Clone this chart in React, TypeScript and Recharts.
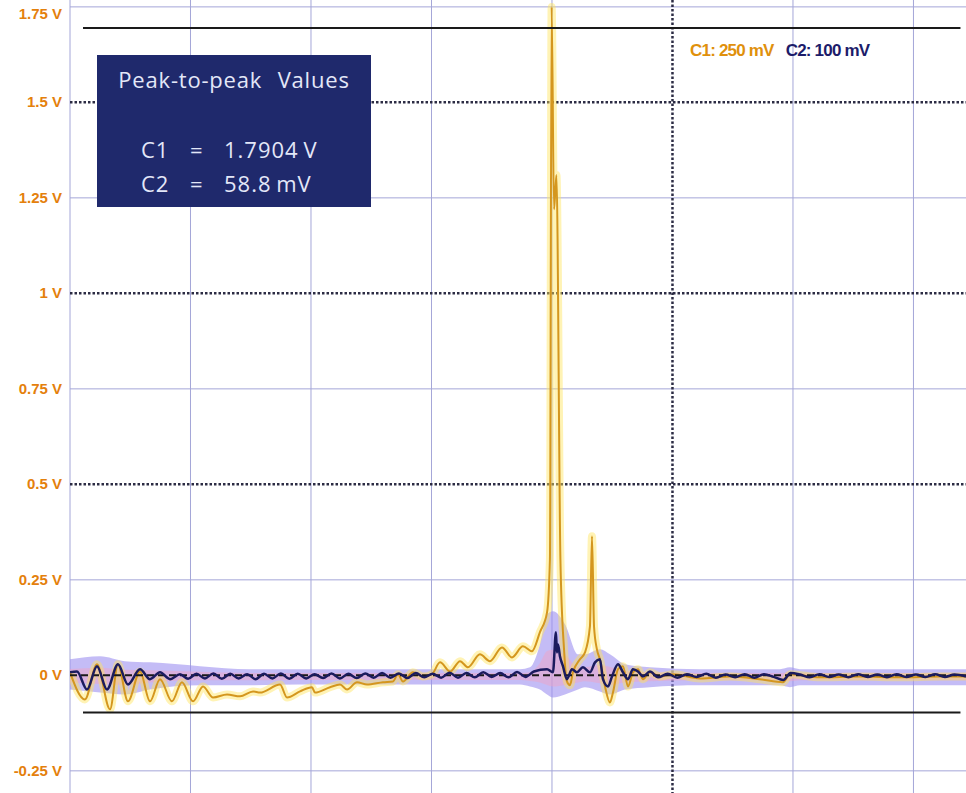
import React from 'react';
import { ComposedChart, Line, Area, XAxis, YAxis, CartesianGrid, ReferenceLine } from 'recharts';

// time in screen divisions, value in volts
const c1Trace: [number, number][] = [
  [0, 0.008], [0.124, -0.063], [0.224, 0.029], [0.332, -0.089], [0.398, 0.029], [0.481, -0.068],
  [0.581, 0.01], [0.664, -0.068], [0.747, -0.01], [0.846, -0.068], [0.929, -0.018], [1.021, -0.068],
  [1.104, -0.029], [1.187, -0.058], [1.303, -0.05], [1.411, -0.055], [1.519, -0.042], [1.577, -0.045],
  [1.743, -0.024], [1.801, -0.058], [1.909, -0.042], [2.008, -0.031], [2.033, -0.045], [2.158, -0.031],
  [2.241, -0.024], [2.299, -0.037], [2.382, -0.018], [2.465, -0.024], [2.598, -0.018], [2.68, -0.016],
  [2.722, 0.003], [2.763, -0.016], [2.846, 0.008], [2.929, -0.003], [3.004, 0.003], [3.071, 0.034],
  [3.154, 0.01], [3.237, 0.037], [3.303, 0.021], [3.402, 0.055], [3.485, 0.037], [3.585, 0.073],
  [3.668, 0.047], [3.759, 0.076], [3.834, 0.063], [3.9, 0.113], [3.959, 0.165], [3.983, 0.304],
  [3.997, 1.75], [4.017, 1.22], [4.037, 1.31], [4.07, 0.304], [4.1, 0.068], [4.124, -0.016],
  [4.149, -0.026], [4.174, 0.008], [4.232, 0.042], [4.274, 0.06], [4.315, 0.128], [4.332, 0.364],
  [4.349, 0.128], [4.373, 0.068], [4.398, 0.042], [4.44, -0.029], [4.481, -0.071], [4.506, -0.045],
  [4.548, 0.016], [4.589, 0.024], [4.631, -0.029], [4.672, 0.008], [4.714, 0.016], [4.755, -0.01],
  [4.813, 0.008], [4.896, -0.003], [5.004, 0.003], [5.228, -0.008], [5.477, -0.003], [5.726, -0.01],
  [5.917, -0.018], [5.975, 0.003], [6.224, -0.005], [6.556, -0.003], [6.888, -0.005], [7.22, -0.003],
  [7.436, -0.003],
];

const c2Trace: [number, number][] = [
  [0, 0.008], [0.058, 0.01], [0.141, -0.037], [0.224, 0.024], [0.307, -0.037], [0.398, 0.029],
  [0.481, -0.024], [0.581, 0.016], [0.664, -0.01], [0.747, 0.008], [0.83, -0.01], [0.913, 0.003],
  [0.98, -0.009], [1.05, 0.004], [1.12, -0.008], [1.19, 0.005], [1.26, -0.009], [1.33, 0.004],
  [1.4, -0.008], [1.47, 0.003], [1.54, -0.01], [1.61, 0.004], [1.68, -0.008], [1.75, 0.005],
  [1.82, -0.009], [1.89, 0.004], [1.96, -0.008], [2.03, 0.003], [2.1, -0.007], [2.17, 0.005],
  [2.24, -0.008], [2.31, 0.004], [2.38, -0.007], [2.45, 0.005], [2.52, -0.006], [2.59, 0.006],
  [2.66, -0.006], [2.73, 0.005], [2.8, -0.007], [2.87, 0.006], [2.94, -0.005], [3.01, 0.004],
  [3.08, -0.006], [3.15, 0.007], [3.22, -0.006], [3.29, 0.006], [3.36, -0.005], [3.43, 0.008],
  [3.5, -0.004], [3.57, 0.006], [3.64, -0.005], [3.71, 0.009], [3.78, -0.004], [3.85, 0.01],
  [3.959, 0.016], [4.008, 0.008], [4.033, 0.113], [4.041, 0.06], [4.05, 0.081], [4.066, 0.05],
  [4.091, 0.024], [4.124, -0.01], [4.166, 0.016], [4.207, 0.008], [4.257, 0.021], [4.315, 0.008],
  [4.357, 0.034], [4.398, 0.042], [4.423, -0.01], [4.465, -0.029], [4.498, -0.003], [4.548, 0.029],
  [4.589, 0.008], [4.631, -0.01], [4.672, 0.016], [4.714, 0.01], [4.755, -0.003], [4.813, 0.01],
  [4.88, -0.005], [4.96, 0.004], [5.04, -0.006], [5.12, 0.003], [5.2, -0.004], [5.28, 0.004],
  [5.36, -0.006], [5.44, 0.002], [5.52, -0.005], [5.6, 0.003], [5.68, -0.006], [5.76, 0.003],
  [5.84, -0.004], [5.92, -0.012], [5.98, 0.006], [6.06, 0.002], [6.14, -0.005], [6.22, 0.003],
  [6.3, -0.004], [6.38, 0.002], [6.46, -0.005], [6.54, 0.003], [6.62, -0.004], [6.7, 0.002],
  [6.78, -0.005], [6.86, 0.003], [6.94, -0.004], [7.02, 0.002], [7.1, -0.004], [7.18, 0.003],
  [7.26, -0.004], [7.34, 0.002], [7.436, -0.003],
];

// C2 persistence envelope: [time, low, high]
const c2Envelope: [number, number, number][] = [
  [0, -0.037, 0.042], [0.249, -0.045, 0.05], [0.456, -0.05, 0.037], [0.664, -0.037, 0.034],
  [1.079, -0.026, 0.024], [1.494, -0.026, 0.016], [1.909, -0.024, 0.016], [2.739, -0.024, 0.016],
  [3.734, -0.024, 0.016], [3.817, -0.029, 0.021], [3.9, -0.037, 0.081], [3.959, -0.05, 0.16],
  [4.008, -0.058, 0.168], [4.108, -0.05, 0.134], [4.216, -0.037, 0.055], [4.274, -0.031, 0.055],
  [4.398, -0.042, 0.068], [4.481, -0.05, 0.055], [4.606, -0.037, 0.029], [4.813, -0.031, 0.021],
  [5.228, -0.026, 0.016], [5.892, -0.026, 0.016], [5.975, -0.031, 0.021], [6.058, -0.026, 0.016],
  [6.888, -0.026, 0.016], [7.436, -0.026, 0.016],
];

const yTicks = [1.75, 1.5, 1.25, 1, 0.75, 0.5, 0.25, 0, -0.25];
const thinRows = [1.75, 1.25, 0.75, 0.25, -0.25];
const dottedRows = [1.5, 1, 0.5];
const thinCols = [0, 1, 2, 3, 4, 6, 7];
const dottedCols = [5];
const cursorHigh = 1.695;
const cursorLow = -0.097;
const cursorStart = 0.108;
const cursorEnd = 7.39;

const c1Data = c1Trace.map(([t, v]) => ({ t, v }));
const c2Data = c2Trace.map(([t, v]) => ({ t, v }));
const envData = c2Envelope.map(([t, lo, hi]) => ({ t, band: [lo, hi] }));
const pinkData = c2Envelope.map(([t, lo, hi]) => ({ t, band: [lo * 0.5, hi * 0.4] }));

const boxText: React.CSSProperties = {
  position: 'absolute', color: '#e3e7f8', fontFamily: '"Open Sans", "Noto Sans", sans-serif',
  fontSize: 22, letterSpacing: 1, whiteSpace: 'nowrap',
};

// top label sits just under the edge in the reference
const VoltTick = (props: any) => {
  const { x, y, payload } = props;
  const dy = payload.value === yTicks[0] ? 12 : 5;
  return (
    <text x={x} y={y} dy={dy} textAnchor="end" fill="#e4800c" fontSize={15} fontWeight={700}
      fontFamily='"Liberation Sans", Arial, sans-serif'>
      {`${payload.value} V`}
    </text>
  );
};

export default function App() {
  return (
    <div style={{ position: 'absolute', left: 0, top: 0, width: 966, height: 793, background: '#fff', overflow: 'hidden' }}>
      <ComposedChart width={966} height={793} margin={{ top: 0, right: 0, bottom: 0, left: 0 }}>
        <CartesianGrid horizontalValues={thinRows} verticalValues={thinCols} stroke="#a4a6d8" strokeWidth={1} />
        <CartesianGrid horizontalValues={dottedRows} verticalValues={dottedCols} stroke="#2c2c44" strokeWidth={2.5} strokeDasharray="2.5 2" />
        <XAxis type="number" dataKey="t" domain={[0, 7.436]} hide allowDataOverflow />
        <YAxis
          type="number"
          domain={[-0.308, 1.768]}
          allowDataOverflow
          ticks={yTicks}
          interval={0}
          width={70}
          axisLine={false}
          tickLine={false}
          tick={<VoltTick />}
        />
        <Area data={envData} dataKey="band" type="monotone" stroke="none" fill="#9d90f0" fillOpacity={0.6} isAnimationActive={false} />
        <Area data={pinkData} dataKey="band" type="monotone" stroke="none" fill="#f3a2c2" fillOpacity={0.45} isAnimationActive={false} />
        <Line data={c1Data} dataKey="v" type="monotone" stroke="#ffe45c" strokeOpacity={0.45} strokeWidth={8} dot={false} activeDot={false} isAnimationActive={false} />
        <Line data={c1Data} dataKey="v" type="monotone" stroke="#d4961e" strokeWidth={2} dot={false} activeDot={false} isAnimationActive={false} />
        <ReferenceLine y={0} stroke="#1a1a1a" strokeWidth={2} strokeDasharray="7 4" />
        <Line data={c2Data} dataKey="v" type="monotone" stroke="#1b1b5e" strokeWidth={2.5} dot={false} activeDot={false} isAnimationActive={false} />
        <ReferenceLine segment={[{ x: cursorStart, y: cursorHigh }, { x: cursorEnd, y: cursorHigh }]} stroke="#1a1a1a" strokeWidth={2} />
        <ReferenceLine segment={[{ x: cursorStart, y: cursorLow }, { x: cursorEnd, y: cursorLow }]} stroke="#1a1a1a" strokeWidth={2} />
      </ComposedChart>

      <div style={{ position: 'absolute', left: 690, top: 41, fontFamily: '"Liberation Sans Narrow", "Liberation Sans", Arial, sans-serif', fontWeight: 700, fontSize: 17, letterSpacing: -0.8, whiteSpace: 'nowrap' }}>
        <span style={{ color: '#e0900c' }}>C1: 250 mV</span>
        <span style={{ color: '#1c1c6a', marginLeft: 12 }}>C2: 100 mV</span>
      </div>

      <div style={{ position: 'absolute', left: 97, top: 55, width: 274, height: 152, background: '#1f296c' }}>
        <div style={{ ...boxText, left: 0, width: 274, top: 9, textAlign: 'center', letterSpacing: 0.8, wordSpacing: 9 }}>Peak-to-peak Values</div>
        <div style={{ ...boxText, left: 44, top: 79 }}>C1</div>
        <div style={{ ...boxText, left: 93, top: 79 }}>=</div>
        <div style={{ ...boxText, left: 127, top: 79, wordSpacing: -2 }}>1.7904 V</div>
        <div style={{ ...boxText, left: 44, top: 113 }}>C2</div>
        <div style={{ ...boxText, left: 93, top: 113 }}>=</div>
        <div style={{ ...boxText, left: 127, top: 113, wordSpacing: -2 }}>58.8 mV</div>
      </div>
    </div>
  );
}
